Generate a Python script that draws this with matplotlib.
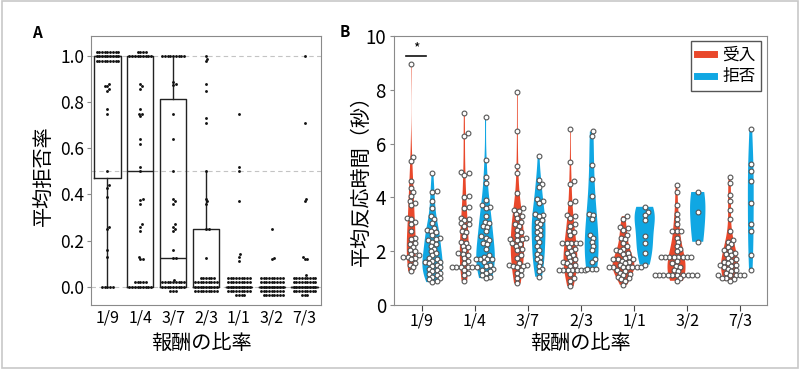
import numpy as np
import matplotlib
matplotlib.use("Agg")
import matplotlib.pyplot as plt
from matplotlib.lines import Line2D
from matplotlib.patches import Rectangle

plt.rcParams['font.family'] = ['Noto Sans CJK JP', 'DejaVu Sans']

ratios = ['1/9', '1/4', '3/7', '2/3', '1/1', '3/2', '7/3']
responses = ['受入', '拒否']

# Panel A: mean rejection rate per participant
rej_1_9 = [0.0] * 5 + [0.13, 0.16, 0.25, 0.26, 0.39, 0.43, 0.44, 0.5,
                       0.75, 0.77, 0.85, 0.86, 0.87, 0.87, 0.88] + [1.0] * 27
rej_1_4 = [0.0] * 14 + [0.12, 0.12, 0.13, 0.24, 0.26, 0.27, 0.36, 0.375, 0.38, 0.5,
                        0.52, 0.62, 0.64, 0.74, 0.75, 0.75, 0.77, 0.86, 0.87, 0.88] + [1.0] * 13
rej_3_7 = [0.0] * 21 + [0.03, 0.125, 0.125, 0.16, 0.24, 0.25, 0.26, 0.27,
                        0.36, 0.37, 0.38, 0.5, 0.64, 0.75, 0.875, 0.88, 0.89] + [1.0] * 9
rej_2_3 = [0.0] * 33 + [0.125, 0.25, 0.25, 0.36, 0.37, 0.38, 0.5,
                        0.71, 0.73, 0.85, 0.88, 0.98, 0.99, 1.0]
rej_1_1 = [0.0] * 40 + [0.11, 0.13, 0.14, 0.37, 0.5, 0.52, 0.75]
rej_3_2 = [0.0] * 44 + [0.12, 0.125, 0.25]
rej_7_3 = [0.0] * 39 + [0.03, 0.12, 0.12, 0.13, 0.37, 0.38, 0.71, 1.0]
reject_rates = [rej_1_9, rej_1_4, rej_3_7, rej_2_3, rej_1_1, rej_3_2, rej_7_3]

# Panel B: mean response time (s), accepted / rejected offers
acc_1_9 = [8.95, 5.5, 5.35, 4.6, 4.35, 4.2, 4.05, 3.85, 3.8, 3.7, 3.25, 3.2, 3.1, 3.0, 2.75, 2.5,
           2.45, 2.3, 2.25, 2.15, 2.05, 2.0, 1.9, 1.85, 1.8, 1.8, 1.75, 1.7, 1.55, 1.5, 1.4, 1.25]
rej_rt_1_9 = [4.9, 4.25, 4.2, 3.85, 3.6, 3.3, 3.2, 3.05, 2.85, 2.8, 2.75, 2.7, 2.6, 2.5, 2.45,
              2.4, 2.35, 2.25, 2.2, 2.1, 2.0, 1.95, 1.85, 1.75, 1.7, 1.65, 1.6, 1.6, 1.55, 1.5,
              1.45, 1.4, 1.35, 1.3, 1.25, 1.2, 1.15, 1.1, 1.05, 1.0, 0.95, 0.9, 0.85]
acc_1_4 = [7.15, 6.4, 6.3, 4.95, 4.9, 4.85, 4.05, 4.0, 3.65, 3.6, 3.25, 3.2, 3.15, 3.05, 3.0,
           2.95, 2.75, 2.7, 2.55, 2.35, 2.3, 2.2, 2.15, 2.05, 1.95, 1.9, 1.85, 1.75, 1.65, 1.55,
           1.4, 1.4, 1.4, 1.4, 1.4, 1.4, 1.3, 1.2, 1.1, 0.9]
rej_rt_1_4 = [7.0, 5.4, 4.75, 4.55, 3.9, 3.7, 3.65, 3.6, 3.3, 3.1, 3.05, 2.95, 2.9, 2.75, 2.55,
              2.5, 2.4, 2.3, 2.25, 2.1, 1.85, 1.8, 1.7, 1.7, 1.7, 1.7, 1.6, 1.5,
              1.45, 1.35, 1.3, 1.25, 1.2, 1.1, 1.05, 1.0]
acc_3_7 = [7.9, 6.45, 5.15, 4.9, 4.15, 3.6, 3.55, 3.5, 3.4, 3.3, 3.25, 3.1, 3.0, 2.95, 2.8, 2.7,
           2.6, 2.5, 2.45, 2.45, 2.4, 2.3, 2.25, 2.2, 2.1, 2.05, 1.85, 1.75, 1.55, 1.5, 1.5, 1.45,
           1.45, 1.4, 1.3, 1.2, 1.1, 1.0, 0.8]
rej_rt_3_7 = [5.55, 4.65, 4.5, 4.4, 3.95, 3.85, 3.8, 3.4, 3.35, 3.3, 3.15, 3.1, 3.0, 2.9, 2.8,
              2.7, 2.6, 2.5, 2.35, 2.2, 2.05, 1.9, 1.8, 1.7, 1.6, 1.45, 1.35, 1.25, 1.05]
acc_2_3 = [6.55, 5.3, 4.6, 4.5, 3.85, 3.8, 3.35, 3.3, 3.25, 3.0, 2.95, 2.75, 2.7, 2.6, 2.3, 2.3,
           2.3, 2.3, 2.3, 2.15, 2.1, 2.0, 1.95, 1.85, 1.8, 1.7, 1.65, 1.6, 1.55, 1.5, 1.45,
           1.3, 1.3, 1.3, 1.3, 1.3, 1.3, 1.3, 1.15, 1.0, 0.9, 0.7]
rej_rt_2_3 = [6.45, 6.3, 5.2, 4.7, 4.05, 3.4, 3.35, 3.2, 2.6, 2.5, 2.35, 2.2, 2.05, 1.7, 1.6,
              1.35, 1.35, 1.35]
acc_1_1 = [3.3, 3.2, 2.9, 2.85, 2.8, 2.6, 2.5, 2.45, 2.3, 2.2, 2.1, 2.05, 2.0, 1.95, 1.9, 1.8,
           1.75, 1.7, 1.7, 1.7, 1.65, 1.6, 1.55, 1.5, 1.4, 1.4, 1.4, 1.4, 1.4, 1.4, 1.4,
           1.3, 1.25, 1.2, 1.15, 1.1, 1.05, 1.0, 0.95, 0.9, 0.75]
rej_rt_1_1 = [3.65, 3.45, 3.35, 3.15, 2.55, 2.3, 1.95, 1.5]
acc_3_2 = [4.45, 4.2, 3.7, 3.4, 3.2, 3.0, 2.75, 2.75, 2.75, 2.5, 2.35, 2.2, 2.1, 2.0, 1.8, 1.8,
           1.8, 1.8, 1.8, 1.8, 1.8, 1.8, 1.65, 1.55, 1.45, 1.4, 1.3, 1.25,
           1.1, 1.1, 1.1, 1.1, 1.1, 1.1, 1.1, 1.1, 1.1, 1.1, 1.0, 0.9]
rej_rt_3_2 = [4.2, 3.45, 2.35]
acc_7_3 = [4.75, 4.55, 4.1, 3.85, 3.55, 3.2, 2.75, 2.4, 2.35, 2.25, 2.15, 2.05, 2.0, 1.95, 1.9,
           1.85, 1.75, 1.7, 1.65, 1.6, 1.55, 1.5, 1.5, 1.45, 1.4, 1.35, 1.3, 1.25, 1.2,
           1.1, 1.1, 1.1, 1.1, 1.1, 1.0, 1.0, 0.95, 0.9]
rej_rt_7_3 = [6.55, 5.25, 5.0, 4.6, 3.8, 3.0, 2.75, 1.85, 1.3]
accept_rt = [acc_1_9, acc_1_4, acc_3_7, acc_2_3, acc_1_1, acc_3_2, acc_7_3]
reject_rt = [rej_rt_1_9, rej_rt_1_4, rej_rt_3_7, rej_rt_2_3, rej_rt_1_1, rej_rt_3_2, rej_rt_7_3]

# max violin widths (x units) as drawn in the figure
accept_widths = [0.17, 0.17, 0.25, 0.26, 0.41, 0.34, 0.32]
reject_widths = [0.38, 0.35, 0.26, 0.26, 0.38, 0.29, 0.11]

RED = '#E9482B'
BLUE = '#10A7E3'
SPINE = '#8a8a8a'


def swarm(ax, xc, vals, d, maxhalf=None, ystep=None):
    """beeswarm layout in pixel space, returns data coords"""
    vals = np.asarray(vals, dtype=float)
    pts = ax.transData.transform(np.column_stack([np.full(len(vals), xc), vals]))
    placed = []
    out = np.zeros((len(vals), 2))
    shifts = [0, 1, -1, 2, -2, 3, -3, 4, -4] if ystep else [0]
    for i in np.argsort(vals, kind='stable'):
        x0, y0 = pts[i]
        best = None
        for k in shifts:
            y = y0 + k * (ystep or 0)
            cands = [0.0]
            for px, py in placed:
                dy = py - y
                if abs(dy) < d:
                    dx = np.sqrt(d * d - dy * dy)
                    cands += [px - x0 + dx, px - x0 - dx]
            cands.sort(key=abs)
            for c in cands:
                if all((x0 + c - px) ** 2 + (y - py) ** 2 >= d * d - 1e-6 for px, py in placed):
                    break
            if maxhalf is None or abs(c) <= maxhalf:
                best = (x0 + c, y)
                break
            if best is None or abs(c) < abs(best[0] - x0):
                best = (x0 + c, y)
        placed.append(best)
        out[i] = best
    return ax.transData.inverted().transform(out)


fig = plt.figure(figsize=(8, 3.69), dpi=100)
fig.patches.append(Rectangle((0.002, 0.003), 0.996, 0.994, transform=fig.transFigure,
                             fill=False, edgecolor='#c8c8c8', linewidth=1.2))

# ---------------- Panel A ----------------
axA = fig.add_axes([91 / 800, 64 / 369, 230 / 800, 269 / 369])
axA.set_xlim(-0.5, 6.5)
axA.set_ylim(-0.08, 1.088)
for yv in [0.0, 0.5, 1.0]:
    axA.axhline(yv, color='#c4c4c4', lw=0.8, ls=(0, (4, 3)), zorder=0)
axA.boxplot(reject_rates, positions=range(len(ratios)), widths=0.8, whis=1.5,
            showfliers=False, showcaps=False, patch_artist=False,
            boxprops=dict(color='#222222', lw=1.0),
            whiskerprops=dict(color='#222222', lw=1.0),
            medianprops=dict(color='#222222', lw=1.0), zorder=2)
for i, vals in enumerate(reject_rates):
    xy = swarm(axA, i, vals, d=2.7, maxhalf=12, ystep=2.2)
    axA.scatter(xy[:, 0], xy[:, 1], s=4.2, color='#111111', lw=0, zorder=3)
axA.set_xticks(range(len(ratios)))
axA.set_xticklabels(ratios, fontsize=11.5)
axA.set_yticks([0, 0.2, 0.4, 0.6, 0.8, 1.0])
axA.set_yticklabels(['0.0', '0.2', '0.4', '0.6', '0.8', '1.0'], fontsize=12.5)
axA.tick_params(axis='x', length=0, pad=3)
axA.tick_params(axis='y', length=3, color=SPINE, pad=2)
for s in axA.spines.values():
    s.set_color(SPINE)
axA.set_ylabel('平均拒否率', fontsize=14.5)
axA.yaxis.set_label_coords(-0.205, 0.48)
axA.set_xlabel('報酬の比率', fontsize=14.5)
axA.xaxis.set_label_coords(0.48, -0.145)
axA.xaxis.label.set_va('center')
axA.yaxis.label.set_va('center')

# ---------------- Panel B ----------------
axB = fig.add_axes([394.3 / 800, 64 / 369, 372.4 / 800, 269 / 369])
axB.set_xlim(-0.52, 6.5)
axB.set_ylim(0, 10)
pos = np.arange(len(ratios))
for data, widths, off, col in [(accept_rt, accept_widths, -0.2, RED),
                               (reject_rt, reject_widths, 0.2, BLUE)]:
    parts = axB.violinplot(data, positions=pos + off, widths=widths,
                           showextrema=False, points=200)
    for body in parts['bodies']:
        body.set_facecolor(col)
        body.set_edgecolor('none')
        body.set_alpha(1)
        body.set_zorder(2)
for i in range(len(ratios)):
    for off, vals in [(-0.2, accept_rt[i]), (0.2, reject_rt[i])]:
        xy = swarm(axB, i + off, vals, d=4.4)
        axB.scatter(xy[:, 0], xy[:, 1], s=12, facecolor='white', edgecolor='#555555',
                    lw=0.8, zorder=4)
axB.plot([-0.3, 0.08], [9.27, 9.27], color='#111111', lw=1.2)
axB.text(-0.11, 9.3, '*', ha='center', va='bottom', fontsize=10)
axB.set_xticks(range(len(ratios)))
axB.set_xticklabels(ratios, fontsize=11.5)
axB.set_yticks([0, 2, 4, 6, 8, 10])
axB.tick_params(axis='y', labelsize=13.5, length=3, color=SPINE, pad=3)
axB.tick_params(axis='x', length=4, color='#444444', pad=1.5)
for s in axB.spines.values():
    s.set_color(SPINE)
axB.set_xlabel('報酬の比率', fontsize=14.5)
axB.xaxis.set_label_coords(0.5, -0.145)
axB.xaxis.label.set_va('center')
axB.set_ylabel('平均反応時間（秒）', fontsize=14.5)
axB.yaxis.set_label_coords(-0.0875, 0.48)
axB.yaxis.label.set_va('center')
handles = [Line2D([], [], color=RED, lw=5), Line2D([], [], color=BLUE, lw=5)]
leg = axB.legend(handles, responses, loc='upper right', fontsize=12, fancybox=False,
                 handlelength=1.0, handletextpad=0.5, borderpad=0.35, labelspacing=0.3,
                 framealpha=1, borderaxespad=0, bbox_to_anchor=(0.985, 0.983))
leg.get_frame().set_edgecolor('#555555')
leg.get_frame().set_linewidth(1.0)

fig.text(37 / 800, 1 - 33 / 369, 'A', fontsize=11, fontweight='bold', ha='center', va='center')
fig.text(345 / 800, 1 - 32 / 369, 'B', fontsize=11, fontweight='bold', ha='center', va='center')

fig.savefig('out.png', dpi=100)
